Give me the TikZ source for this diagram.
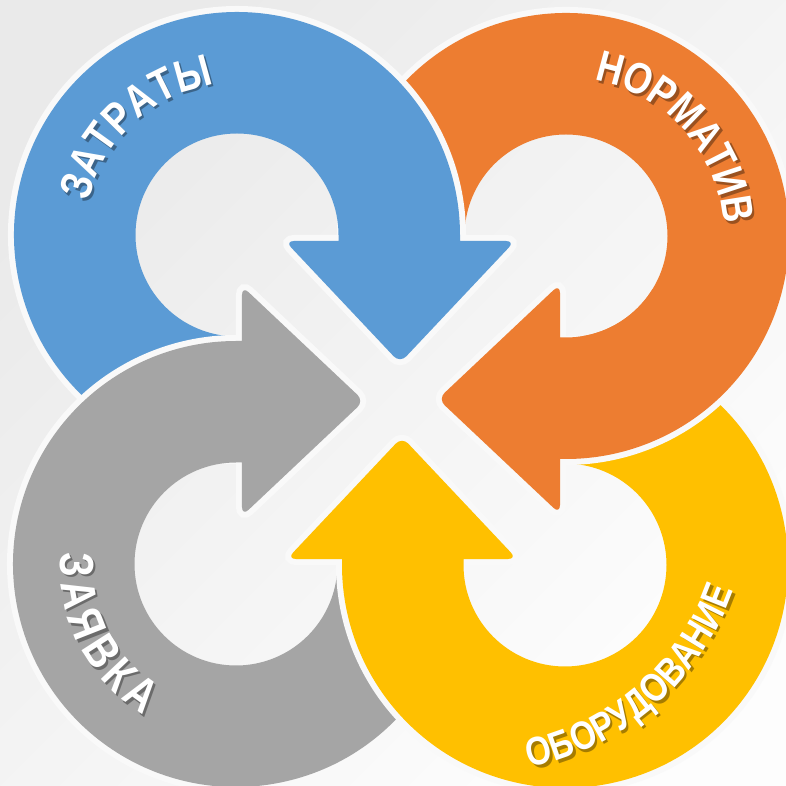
\documentclass[tikz,border=0pt]{standalone}
\usepackage{fontspec}
\setmainfont{Liberation Sans}
\newfontfamily\lblfont[FakeStretch=0.82]{Liberation Sans Bold}
\usetikzlibrary{decorations.text}

\definecolor{ringblue}{HTML}{5B9BD5}
\definecolor{ringorange}{HTML}{ED7D31}
\definecolor{ringyellow}{HTML}{FFC000}
\definecolor{ringgray}{HTML}{A5A5A5}
\definecolor{gapcol}{HTML}{F9F9F9}
\definecolor{bgdark}{HTML}{EAEAEA}
\definecolor{bglight}{HTML}{FDFDFD}

% one circular arrow, drawn for the top left (blue) one
\newcommand\arrowshape{([shift={(-164,165)}]280:223) arc[start angle=280,end angle=0,radius=223]
  -- (59,159) [rounded corners=9] -- (114,159) -- (-1,37) -- (-116,159) [sharp corners] -- (-62.5,159)
  -- (-62.5,165) arc[start angle=0,end angle=280,radius=101.5] -- cycle}
% its outer rim only (the white gap)
\newcommand\arrowrim{([shift={(-164,165)}]280:223) arc[start angle=280,end angle=0,radius=223]
  -- (59,159) [rounded corners=9] -- (114,159) -- (-1,37) -- (-116,159) [sharp corners] -- (-62.5,159)}

% #1 centre, #2 radius, #3 from, #4 to, #5 size, #6 text
\newcommand\ringlabel[6]{%
  \begin{scope}[shift={(2.5,-2.5)},opacity=.35]
    \path[decorate,decoration={text along path,text align=center,text color=black,
      text={|\lblfont\fontsize{#5}{#5}\selectfont|#6}}]
      ([shift={#1}]#3:#2) arc[start angle=#3,end angle=#4,radius=#2];
  \end{scope}
  \path[decorate,decoration={text along path,text align=center,text color=white,
    text={|\lblfont\fontsize{#5}{#5}\selectfont|#6}}]
    ([shift={#1}]#3:#2) arc[start angle=#3,end angle=#4,radius=#2];}

\begin{document}
\begin{tikzpicture}[x=1pt,y=1pt]
  \tikzset{gap/.style={draw=gapcol,line width=12pt,line cap=round}}

  \useasboundingbox (-401,-386) rectangle (385,400);
  \shade[top color=bgdark,bottom color=bglight,shading angle=45] (-401,-386) rectangle (385,400);

  \foreach \col/\rot in {ringorange/-90, ringblue/0, ringgray/90, ringyellow/180}{
    \draw[gap,rotate=\rot] \arrowrim;
    \fill[fill=\col,rotate=\rot] \arrowshape;
  }

  % orange head goes over the yellow tail
  \begin{scope}
    \clip (60,-100) rectangle (400,110);
    \draw[gap,rotate=-90] \arrowrim;
    \fill[fill=ringorange,rotate=-90] \arrowshape;
  \end{scope}

  \ringlabel{(-164,165)}{152}{195}{71}{45}{ЗАТРАТЫ}
  \ringlabel{(165,164)}{158}{102}{-18}{44}{НОРМАТИВ}
  \ringlabel{(-166,-166)}{175}{145}{269}{48}{З{\kern6pt}А{\kern6pt}Я{\kern6pt}В{\kern6pt}К{\kern6pt}А}
  \ringlabel{(75,-100)}{273}{271}{351}{40}{ОБОРУДОВАНИЕ}
\end{tikzpicture}
\end{document}
